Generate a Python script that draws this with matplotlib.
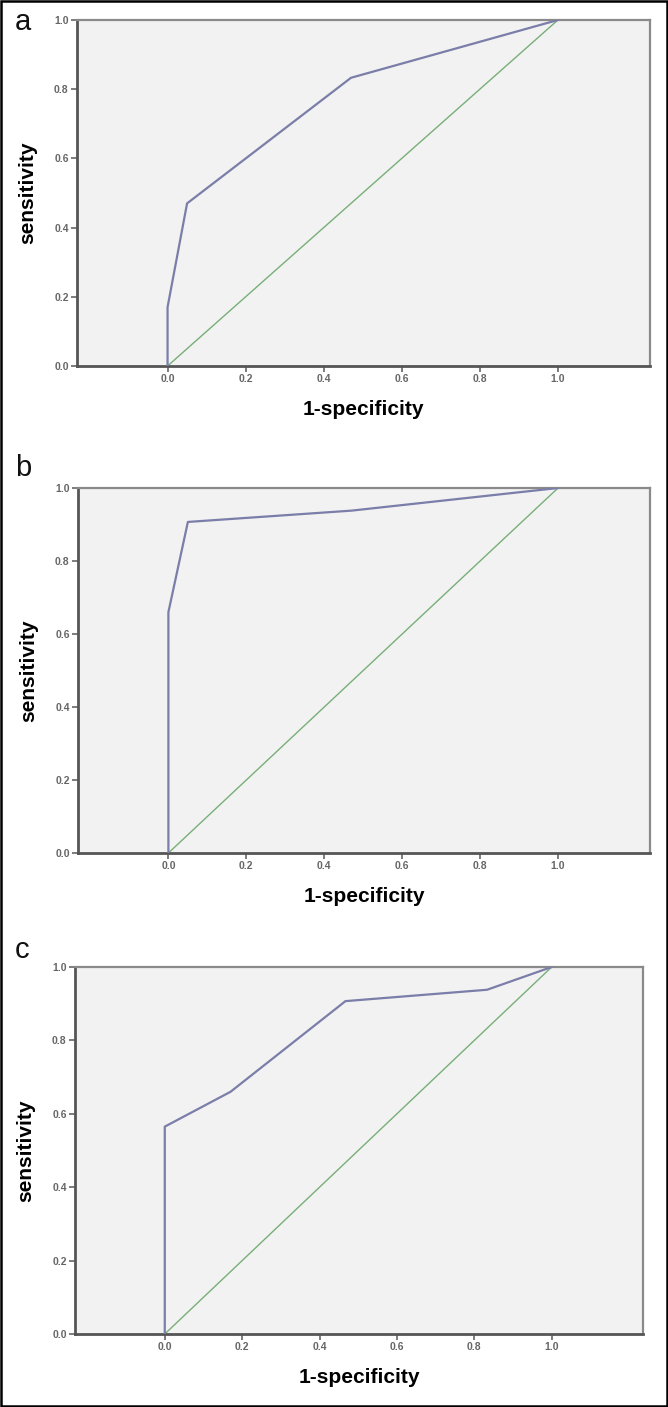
import matplotlib.pyplot as plt
from matplotlib.patches import Rectangle

# ROC points (1-specificity, sensitivity)
fpr_a = [0.0, 0.0, 0.05, 0.47, 1.0]
tpr_a = [0.0, 0.17, 0.47, 0.833, 1.0]

fpr_b = [0.0, 0.0, 0.05, 0.47, 1.0]
tpr_b = [0.0, 0.66, 0.907, 0.938, 1.0]

fpr_c = [0.0, 0.0, 0.17, 0.467, 0.833, 1.0]
tpr_c = [0.0, 0.565, 0.66, 0.907, 0.938, 1.0]

letters = ["a", "b", "c"]
ticks = [0.0, 0.2, 0.4, 0.6, 0.8, 1.0]
tick_labels = ["0.0", "0.2", "0.4", "0.6", "0.8", "1.0"]

plt.rcParams["font.family"] = ["Liberation Sans", "DejaVu Sans"]

fig = plt.figure(figsize=(6.68, 14.07), dpi=100)
W, H = 668, 1407

# axes boxes in pixels: left, right, top, bottom, letter baseline
boxes = [(77, 650, 20, 366, 30), (78, 650, 488, 853, 476), (75, 643, 967, 1334, 958)]
curves = [(fpr_a, tpr_a), (fpr_b, tpr_b), (fpr_c, tpr_c)]

for (l, r, t, b, base), (fx, ty), letter in zip(boxes, curves, letters):
    ax = fig.add_axes([l / W, 1 - b / H, (r - l) / W, (b - t) / H])
    ax.set_facecolor("#f2f2f2")
    ax.plot([0, 1], [0, 1], color="#78ae78", lw=1.0, zorder=2)
    ax.plot(fx, ty, color="#7a7ea8", lw=1.6, zorder=3)
    ax.set_xlim(-0.232, 1.236)
    ax.set_ylim(0, 1)
    ax.set_xticks(ticks)
    ax.set_xticklabels(tick_labels)
    ax.set_yticks(ticks)
    ax.set_yticklabels(tick_labels)
    ax.tick_params(direction="out", length=4, width=1.2, color="#666666",
                   labelsize=7.5, labelcolor="#666666", pad=2)
    for lab in ax.get_xticklabels() + ax.get_yticklabels():
        lab.set_fontweight("bold")
    for side in ["left", "bottom"]:
        ax.spines[side].set_color("#555555")
        ax.spines[side].set_linewidth(2.0)
    for side in ["top", "right"]:
        ax.spines[side].set_color("#8a8a8a")
        ax.spines[side].set_linewidth(1.6)
    ax.set_xlabel("1-specificity", fontsize=15, fontweight="bold", labelpad=11)
    ax.set_ylabel("sensitivity", fontsize=15, fontweight="bold", labelpad=12)
    fig.text(15 / W, 1 - base / H, letter, fontsize=21, ha="left", va="baseline",
             color="#111111", fontweight="normal")

# black frame around the whole picture
fig.patches.append(Rectangle((0.0015, 0.0008), 0.997, 0.9985, transform=fig.transFigure,
                             fill=False, edgecolor="black", lw=1.8))

fig.savefig("out.png", dpi=100)
